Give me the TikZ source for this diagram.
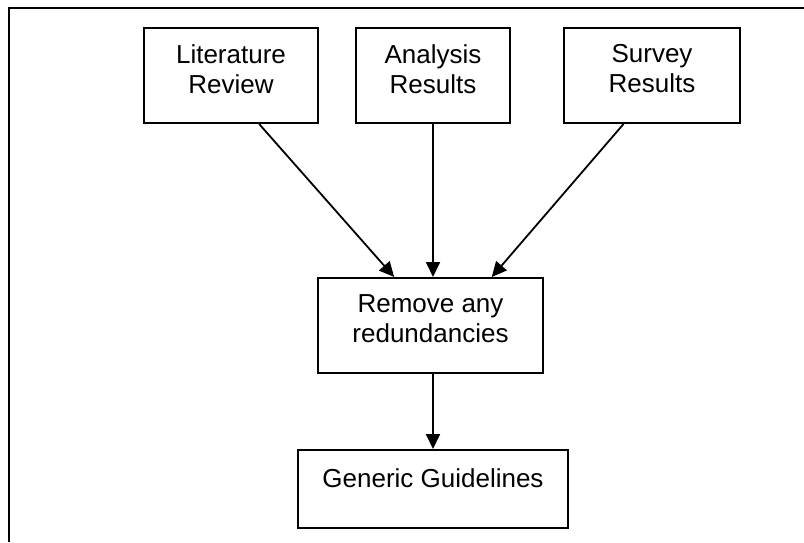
\documentclass[tikz,border=0pt]{standalone}
\usepackage{fontspec}
\setmainfont{Liberation Sans}
\usetikzlibrary{arrows.meta,calc}
\begin{document}
\begin{tikzpicture}[x=1pt,y=-1pt,
  box/.style={draw,line width=2pt,rectangle,inner sep=0pt,anchor=north west},
  lbl/.style={anchor=north,inner sep=0pt,align=center,
    font=\fontsize{26}{30}\selectfont},
  flow/.style={line width=1.8pt,-{Triangle[length=15pt,width=14pt]}}]
  \useasboundingbox (0,0) rectangle (804,542);
  % open frame: top and left edges only
  \draw[line width=2.6pt] (9,542) -- (9,8) -- (804,8);
  % boxes
  \node[box,minimum width=174pt,minimum height=95pt] (lit) at (143,27) {};
  \node[box,minimum width=154pt,minimum height=95pt] (ana) at (355,27) {};
  \node[box,minimum width=176pt,minimum height=95pt] (sur) at (563,27) {};
  \node[box,minimum width=225pt,minimum height=95pt] (rem) at (317,277) {};
  \node[box,minimum width=270pt,minimum height=78pt] (gen) at (297,449) {};
  % labels
  \node[lbl] (litT) at ($(lit.north)+(0,17)$) {Literature\\Review};
  \node[lbl] (anaT) at ($(ana.north)+(0,17)$) {Analysis\\Results};
  \node[lbl] (surT) at ($(sur.north)+(0,17)$) {Survey\\Results};
  \node[lbl] (remT) at ($(rem.north)+(0,17)$) {Remove any\\redundancies};
  \node[lbl] (genT) at ($(gen.north)+(0,19)$) {Generic Guidelines};
  % connectors
  \coordinate (litS) at ($(lit.south west)!0.66!(lit.south east)$);
  \coordinate (surS) at ($(sur.south west)!0.34!(sur.south east)$);
  \coordinate (remL) at ($(rem.north west)!0.34!(rem.north east)$);
  \coordinate (remR) at ($(rem.north west)!0.77!(rem.north east)$);
  \draw[flow] (litS) -- (remL);
  \draw[flow] (ana.south) -- (ana.south |- rem.north);
  \draw[flow] (surS) -- (remR);
  \draw[flow] (rem.south -| gen.north) -- (gen.north);
\end{tikzpicture}
\end{document}
